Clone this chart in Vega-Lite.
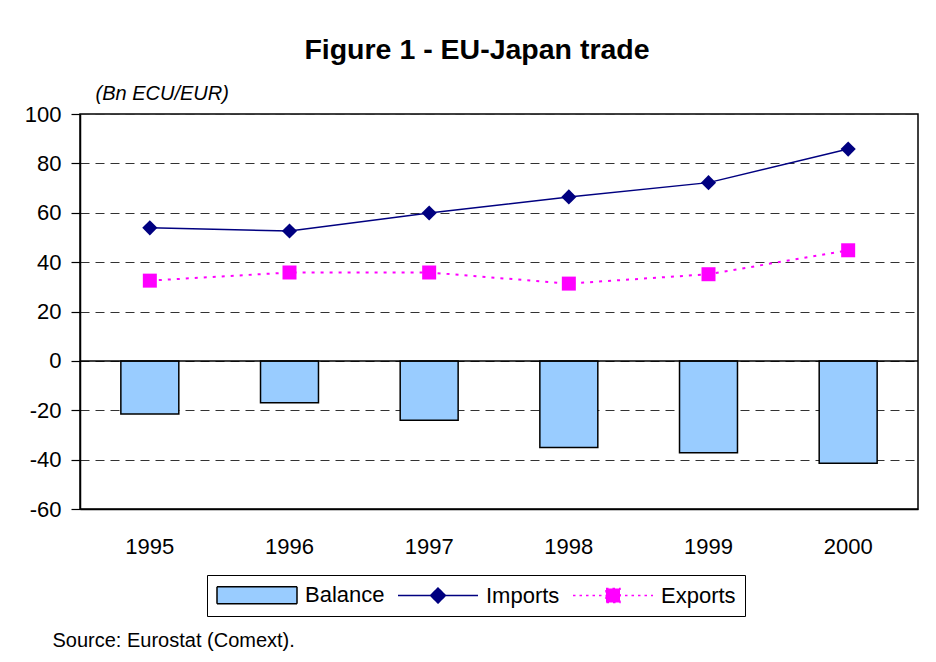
{
  "$schema": "https://vega.github.io/schema/vega-lite/v6.json",
  "width": 838,
  "height": 395,
  "autosize": {"type": "none"},
  "padding": {"left": 80, "top": 114, "right": 18, "bottom": 153},
  "background": "white",
  "title": {
    "text": "Figure 1 - EU-Japan trade",
    "font": "Liberation Sans",
    "fontSize": 28.5,
    "fontWeight": "bold",
    "color": "black",
    "anchor": "middle",
    "dx": -22,
    "dy": -15
  },
  "config": {
    "view": {"stroke": "black", "strokeWidth": 1.5},
    "font": "Liberation Sans",
    "legend": {
      "symbolSize": 400,
      "symbolStrokeWidth": 1.5,
      "symbolOpacity": 1,
      "labelFontSize": 22,
      "labelFont": "Liberation Sans",
      "labelColor": "black",
      "labelOffset": 67,
      "columnPadding": 10,
      "padding": 9,
      "strokeColor": "black",
      "orient": "none",
      "legendX": 127,
      "legendY": 461,
      "direction": "horizontal",
      "title": null
    }
  },
  "datasets": {
    "trade": [
      {"year": "1995", "series": "Balance", "value": -21.5},
      {"year": "1996", "series": "Balance", "value": -17.0},
      {"year": "1997", "series": "Balance", "value": -24.1},
      {"year": "1998", "series": "Balance", "value": -35.1},
      {"year": "1999", "series": "Balance", "value": -37.2},
      {"year": "2000", "series": "Balance", "value": -41.5},
      {"year": "1995", "series": "Imports", "value": 53.9},
      {"year": "1996", "series": "Imports", "value": 52.6},
      {"year": "1997", "series": "Imports", "value": 59.9},
      {"year": "1998", "series": "Imports", "value": 66.4},
      {"year": "1999", "series": "Imports", "value": 72.2},
      {"year": "2000", "series": "Imports", "value": 85.8},
      {"year": "1995", "series": "Exports", "value": 32.5},
      {"year": "1996", "series": "Exports", "value": 35.8},
      {"year": "1997", "series": "Exports", "value": 35.8},
      {"year": "1998", "series": "Exports", "value": 31.3},
      {"year": "1999", "series": "Exports", "value": 35.1},
      {"year": "2000", "series": "Exports", "value": 44.8}
    ],
    "zero": [{"y": 0}]
  },
  "data": {"name": "trade"},
  "layer": [
    {
      "transform": [{"filter": "datum.series === 'Balance'"}],
      "mark": {"type": "bar", "fill": "#99CCFF", "stroke": "black", "strokeWidth": 1.5, "width": {"band": 0.415}, "opacity": 1},
      "encoding": {
        "x": {
          "field": "year",
          "type": "ordinal",
          "scale": {"type": "band", "paddingInner": 0, "paddingOuter": 0},
          "axis": {
            "labelAngle": 0,
            "labelFontSize": 22,
            "labelColor": "black",
            "labelPadding": 27,
            "ticks": false,
            "domainColor": "black",
            "domainWidth": 1.5,
            "title": "Source: Eurostat (Comext).",
            "titleFontSize": 20,
            "titleFontWeight": "normal",
            "titleColor": "black",
            "titleAlign": "left",
            "titleBaseline": "middle",
            "titleX": -28,
            "titleY": 131,
            "titleAnchor": "start"
          }
        },
        "y": {
          "field": "value",
          "type": "quantitative",
          "scale": {"domain": [-60, 100], "nice": false, "zero": false},
          "axis": {
            "values": [-60, -40, -20, 0, 20, 40, 60, 80, 100],
            "labelExpr": "toString(datum.value)",
            "labelFontSize": 22,
            "labelColor": "black",
            "labelPadding": 10,
            "tickSize": 9,
            "tickColor": "black",
            "tickWidth": 1.2,
            "domainColor": "black",
            "domainWidth": 1.5,
            "grid": true,
            "gridColor": "#333333",
            "gridDash": [9, 6],
            "gridWidth": 1,
            "title": "(Bn ECU/EUR)",
            "titleFontSize": 20,
            "titleFontStyle": "italic",
            "titleFontWeight": "normal",
            "titleColor": "black",
            "titleAngle": 0,
            "titleAlign": "left",
            "titleBaseline": "middle",
            "titleX": 15,
            "titleY": -21
          }
        }
      }
    },
    {
      "data": {"name": "zero"},
      "mark": {"type": "rule", "color": "black", "strokeWidth": 1.5},
      "encoding": {"y": {"field": "y", "type": "quantitative"}}
    },
    {
      "transform": [{"filter": "datum.series === 'Imports'"}],
      "mark": {"type": "line", "color": "#000080", "strokeWidth": 1.5},
      "encoding": {
        "x": {"field": "year", "type": "ordinal"},
        "y": {"field": "value", "type": "quantitative"}
      }
    },
    {
      "transform": [{"filter": "datum.series === 'Imports'"}],
      "mark": {"type": "point", "shape": "diamond", "filled": true, "color": "#000080", "size": 230, "opacity": 1},
      "encoding": {
        "x": {"field": "year", "type": "ordinal"},
        "y": {"field": "value", "type": "quantitative"}
      }
    },
    {
      "transform": [{"filter": "datum.series === 'Exports'"}],
      "mark": {"type": "line", "color": "#FF00FF", "strokeWidth": 2, "strokeDash": [3, 6]},
      "encoding": {
        "x": {"field": "year", "type": "ordinal"},
        "y": {"field": "value", "type": "quantitative"}
      }
    },
    {
      "transform": [{"filter": "datum.series === 'Exports'"}],
      "mark": {"type": "point", "shape": "square", "filled": true, "color": "#FF00FF", "size": 196, "opacity": 1},
      "encoding": {
        "x": {"field": "year", "type": "ordinal"},
        "y": {"field": "value", "type": "quantitative"}
      }
    },
    {
      "mark": {"type": "point", "filled": true, "opacity": 0},
      "encoding": {
        "x": {"field": "year", "type": "ordinal"},
        "y": {"field": "value", "type": "quantitative"},
        "color": {
          "field": "series",
          "type": "nominal",
          "scale": {"domain": ["Balance", "Imports", "Exports"], "range": ["#99CCFF", "#000080", "#FF00FF"]}
        },
        "stroke": {
          "field": "series",
          "type": "nominal",
          "scale": {"domain": ["Balance", "Imports", "Exports"], "range": ["#000000", "#000080", "#FF00FF"]}
        },
        "shape": {
          "field": "series",
          "type": "nominal",
          "scale": {
            "domain": ["Balance", "Imports", "Exports"],
            "range": [
              "M-1,-0.85H7V0.85H-1Z",
              "M-1,0H7M3,-0.75L3.75,0L3,0.75L2.25,0Z",
              "M-1,0H7M2.3,-0.7H3.7V0.7H2.3Z"
            ]
          }
        },
        "strokeDash": {
          "field": "series",
          "type": "nominal",
          "scale": {"domain": ["Balance", "Imports", "Exports"], "range": [[1, 0], [1, 0], [2.5, 4]]}
        }
      }
    }
  ]
}
